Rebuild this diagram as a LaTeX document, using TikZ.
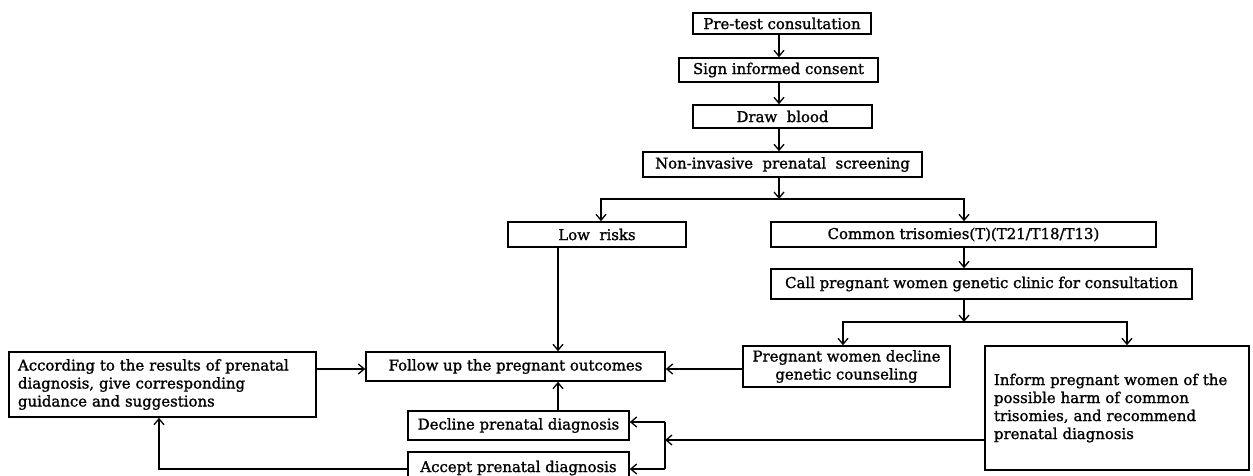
\documentclass[tikz,border=0pt]{standalone}
\usepackage{fontspec}
\setmainfont{DejaVu Serif}[BoldFont={DejaVu Serif},BoldFeatures={FakeBold=1.3}]
\usetikzlibrary{arrows.meta}
\begin{document}
\begin{tikzpicture}[x=1pt,y=-1pt,
  box/.style={draw, line width=1.5pt, inner sep=0pt, font=\fontsize{14.9}{18}\selectfont\bfseries},
  lbox/.style={box, align=left, inner xsep=9pt},
  arr/.style={line width=1.3pt, -{Straight Barb[length=6pt,width=10pt]}},
  ln/.style={line width=1.3pt}]
\useasboundingbox (0,0) rectangle (1253,476);
\clip (0,0) rectangle (1253,476);

% boxes
\node[box, minimum width=178pt, minimum height=21pt] (pre) at (782,23.5) {Pre-test consultation};
\node[box, minimum width=199pt, minimum height=24pt] (sign) at (778.5,70) {Sign informed consent};
\node[box, minimum width=179pt, minimum height=23pt] (blood) at (782.5,116.5) {Draw\ \ blood};
\node[box, minimum width=279pt, minimum height=25pt] (nips) at (782.5,164.5) {Non-invasive\ \ prenatal\ \ screening};
\node[box, minimum width=178pt, minimum height=25pt] (low) at (597,234.5) {Low\ \ risks};
\node[box, minimum width=385pt, minimum height=25pt] (common) at (963.5,234.5) {Common trisomies(T)(T21/T18/T13)};
\node[box, minimum width=421pt, minimum height=30pt] (call) at (981.5,284) {Call pregnant women genetic clinic for consultation};
\node[box, align=center, minimum width=207pt, minimum height=41pt] (declgen) at (846.5,366.5) {Pregnant women decline\\genetic counseling};
\node[lbox, text width=246pt, minimum width=264pt, minimum height=124pt] (inform) at (1117,408) {Inform pregnant women of the\\possible harm of common\\trisomies, and recommend\\prenatal diagnosis};
\node[box, minimum width=299pt, minimum height=29pt] (follow) at (515.5,366.5) {Follow up the pregnant outcomes};
\node[lbox, text width=289pt, minimum width=307pt, minimum height=65pt] (left) at (162.5,384.5) {According to the results of prenatal\\diagnosis, give corresponding\\guidance and suggestions};
\node[box, minimum width=221pt, minimum height=29pt] (declpre) at (518.5,425.5) {Decline prenatal diagnosis};
\node[box, minimum width=221pt, minimum height=32pt] (accept) at (518.5,468) {Accept prenatal diagnosis};

% helper coordinates
\coordinate (sp) at (779,0);
\coordinate (j1) at (779,199);
\coordinate (lowx) at (601,0);
\coordinate (cx) at (964,0);
\coordinate (j2) at (964,322);
\coordinate (dgx) at (843,0);
\coordinate (infx) at (1127,0);
\coordinate (lx) at (558,0);
\coordinate (fy) at (0,369);
\coordinate (bx) at (665,440);
\coordinate (bt) at (665,422);
\coordinate (bb) at (665,469);
\coordinate (ay) at (159,469);

% connectors
\draw[arr] (pre.south -| sp) -- (sign.north -| sp);
\draw[arr] (sign.south -| sp) -- (blood.north -| sp);
\draw[arr] (blood.south -| sp) -- (nips.north -| sp);
\draw[arr] (nips.south -| sp) -- (j1);
\draw[arr] (j1) -| (low.north -| lowx);
\draw[arr] (j1) -| (common.north -| cx);
\draw[arr] (common.south -| cx) -- (call.north -| cx);
\draw[arr] (call.south -| cx) -- (j2);
\draw[arr] (j2) -| (declgen.north -| dgx);
\draw[arr] (j2) -| (inform.north -| infx);
\draw[arr] (low.south -| lx) -- (follow.north -| lx);
\draw[arr] (left.east |- fy) -- (follow.west |- fy);
\draw[arr] (declgen.west |- fy) -- (follow.east |- fy);
\draw[arr] (declpre.north -| lx) -- (follow.south -| lx);
\draw[arr] (inform.west |- bx) -- (bx);
\draw[ln] (bt) -- (bb);
\draw[arr] (bt) -- (declpre.east |- bt);
\draw[arr] (bb) -- (accept.east |- bb);
\draw[arr] (accept.west |- ay) -| (left.south -| ay);
\end{tikzpicture}
\end{document}
